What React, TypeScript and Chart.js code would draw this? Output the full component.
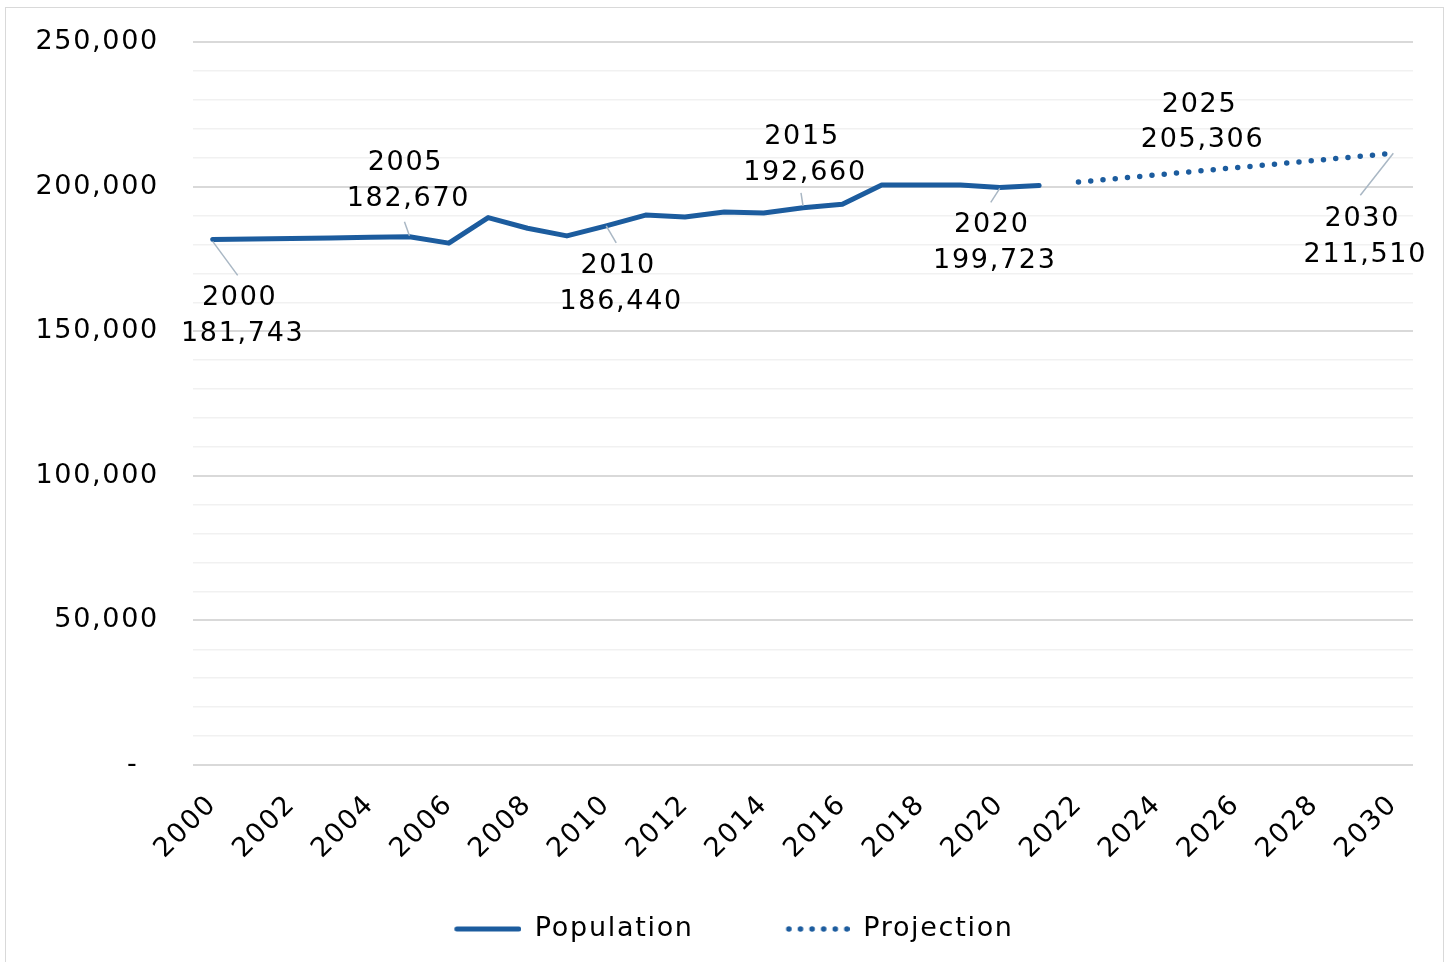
import React, { useEffect, useRef } from "react";
import { Chart, registerables } from "chart.js";

Chart.register(...registerables);

const years = [
  "2000", "2001", "2002", "2003", "2004", "2005", "2006", "2007", "2008", "2009",
  "2010", "2011", "2012", "2013", "2014", "2015", "2016", "2017", "2018", "2019",
  "2020", "2021", "2022", "2023", "2024", "2025", "2026", "2027", "2028", "2029", "2030",
];

const population = [
  181743, 181900, 182080, 182250, 182450, 182670, 180450, 189300, 185600, 182950,
  186440, 190150, 189500, 191250, 190900, 192660, 193900, 200550, 200550, 200520,
  199723, 200400, null, null, null, null, null, null, null, null, null,
];

const projection = [
  null, null, null, null, null, null, null, null, null, null,
  null, null, null, null, null, null, null, null, null, null,
  null, null, 201590, 202830, 204070, 205306, 206550, 207790, 209030, 210270, 211510,
];

const labeledYears = ["2000", "2005", "2010", "2015", "2020", "2025", "2030"];
const labeledValues = [181743, 182670, 186440, 192660, 199723, 205306, 211510];

const yTickValues = [0, 50000, 100000, 150000, 200000, 250000];

const FONT = '"DejaVu Sans", sans-serif';
const BLUE = "#1c5c9e";
const LEADER = "#a9b7c4";
const SPACING = "1.7px";

// label placement relative to the data point (pixels)
const labelPlacement = [
  { dx: 27, dy1: 59, dy2: 95, leader: [0, 2, 25, 36] },
  { dx: -4, dy1: -74, dy2: -38, leader: [-5, -15, 0, -1] },
  { dx: 12, dy1: 40, dy2: 76, leader: [0, 0, 10, 17] },
  { dx: -1, dy1: -71, dy2: -35, leader: [-2, -15, 0, -2] },
  { dx: -8, dy1: 38, dy2: 74, leader: [0, 1, -9, 15] },
  { dx: 3, dy1: -66, dy2: -31, leader: null },
  { dx: -31, dy1: 66, dy2: 102, leader: [0, 0, -33, 42] },
];

function fmt(v: number) {
  return v.toLocaleString("en-US");
}

const spacingPlugin = {
  id: "spacing",
  beforeUpdate(chart: any) {
    (chart.ctx as any).letterSpacing = SPACING;
  },
  beforeDraw(chart: any) {
    (chart.ctx as any).letterSpacing = SPACING;
  },
};

const dataLabelPlugin = {
  id: "dataLabels",
  afterDatasetsDraw(chart: any) {
    const ctx = chart.ctx;
    const xs = chart.scales.x;
    const ys = chart.scales.y;
    ctx.save();
    labeledYears.forEach((yr, i) => {
      const idx = years.indexOf(yr);
      const px = xs.getPixelForValue(idx);
      const py = ys.getPixelForValue(labeledValues[i]);
      const p = labelPlacement[i];
      if (p.leader) {
        ctx.strokeStyle = LEADER;
        ctx.lineWidth = 1.5;
        ctx.beginPath();
        ctx.moveTo(px + p.leader[0], py + p.leader[1]);
        ctx.lineTo(px + p.leader[2], py + p.leader[3]);
        ctx.stroke();
      }
      ctx.fillStyle = "#000";
      ctx.font = `27px ${FONT}`;
      ctx.letterSpacing = SPACING;
      ctx.textAlign = "center";
      ctx.textBaseline = "middle";
      ctx.fillText(yr, px + p.dx, py + p.dy1);
      ctx.fillText(fmt(labeledValues[i]), px + p.dx + 3, py + p.dy2);
    });
    ctx.restore();
  },
};

const LEG_W = 122;

function makeLineImage() {
  const c = document.createElement("canvas");
  c.width = LEG_W;
  c.height = 8;
  const g = c.getContext("2d")!;
  g.strokeStyle = BLUE;
  g.lineWidth = 5;
  g.lineCap = "round";
  g.beginPath();
  g.moveTo(LEG_W - 64.5, 4);
  g.lineTo(LEG_W - 2.5, 4);
  g.stroke();
  return c;
}

function makeDotImage() {
  const c = document.createElement("canvas");
  c.width = LEG_W;
  c.height = 8;
  const g = c.getContext("2d")!;
  g.fillStyle = BLUE;
  for (let k = 0; k < 6; k++) {
    g.beginPath();
    g.arc(LEG_W - 2.8 - k * 11.6, 4, 2.8, 0, Math.PI * 2);
    g.fill();
  }
  return c;
}

export default function App() {
  const ref = useRef<HTMLCanvasElement | null>(null);

  useEffect(() => {
    if (!ref.current) return;
    const lineImg = makeLineImage();
    const dotImg = makeDotImage();
    const chart = new Chart(ref.current, {
      type: "line",
      data: {
        labels: years,
        datasets: [
          {
            label: "Population",
            data: population,
            borderColor: BLUE,
            backgroundColor: BLUE,
            borderWidth: 5,
            borderCapStyle: "round",
            borderJoinStyle: "round",
            pointRadius: 0,
            tension: 0,
            spanGaps: false,
          },
          {
            label: "Projection",
            data: projection,
            borderColor: BLUE,
            backgroundColor: BLUE,
            borderWidth: 5.5,
            borderDash: [0, 12.3],
            borderCapStyle: "round",
            pointRadius: 0,
            tension: 0,
            spanGaps: false,
          },
        ],
      },
      options: {
        responsive: false,
        animation: false,
        events: [],
        layout: { padding: { top: 42, right: 34, bottom: 9.5, left: 0 } },
        plugins: {
          tooltip: { enabled: false },
          legend: {
            position: "bottom",
            labels: {
              usePointStyle: true,
              pointStyleWidth: LEG_W,
              padding: 34,
              color: "#000",
              font: { family: FONT, size: 27 },
              generateLabels: () => [
                {
                  text: "Population",
                  pointStyle: lineImg,
                  fillStyle: "rgba(0,0,0,0)",
                  strokeStyle: "rgba(0,0,0,0)",
                  lineWidth: 0,
                  hidden: false,
                  datasetIndex: 0,
                  fontColor: "#000",
                },
                {
                  text: "Projection",
                  pointStyle: dotImg,
                  fillStyle: "rgba(0,0,0,0)",
                  strokeStyle: "rgba(0,0,0,0)",
                  lineWidth: 0,
                  hidden: false,
                  datasetIndex: 1,
                  fontColor: "#000",
                },
              ],
            },
          },
        },
        scales: {
          x: {
            offset: true,
            grid: { display: false, drawTicks: false },
            border: { display: false },
            afterFit: (s: any) => {
              s.height = 116.5;
            },
            ticks: {
              autoSkip: false,
              maxRotation: 45,
              minRotation: 45,
              padding: 24,
              color: "#000",
              font: { family: FONT, size: 27 },
              callback: (_v: any, i: number) => (i % 2 === 0 ? years[i] : ""),
            },
          },
          y: {
            min: 0,
            max: 250000,
            border: { display: false },
            afterFit: (s: any) => {
              s.width = 193;
              s.paddingTop = 16;
              s.paddingBottom = 16;
            },
            grid: {
              drawTicks: false,
              color: (c: any) =>
                yTickValues.includes(c.tick.value) ? "#d9d9d9" : "#f1f1f1",
              lineWidth: (c: any) => (yTickValues.includes(c.tick.value) ? 2 : 1.5),
            },
            ticks: {
              stepSize: 10000,
              autoSkip: false,
              padding: 34,
              color: "#000",
              font: { family: FONT, size: 27 },
              callback: (v: any) =>
                v === 0 ? "-  " : yTickValues.includes(v) ? fmt(v) : "",
            },
          },
        },
      },
      plugins: [spacingPlugin, dataLabelPlugin],
    });
    return () => chart.destroy();
  }, []);

  return (
    <div
      style={{
        position: "fixed",
        left: 0,
        top: 0,
        width: 1447,
        height: 962,
        overflow: "hidden",
        background: "#fff",
      }}
    >
      <div
        style={{
          position: "absolute",
          left: 5,
          top: 7,
          width: 1437,
          height: 1000,
          border: "1.5px solid #d9d9d9",
        }}
      />
      <canvas
        ref={ref}
        width={1447}
        height={962}
        style={{ position: "absolute", left: 0, top: 0, width: 1447, height: 962 }}
      />
    </div>
  );
}
